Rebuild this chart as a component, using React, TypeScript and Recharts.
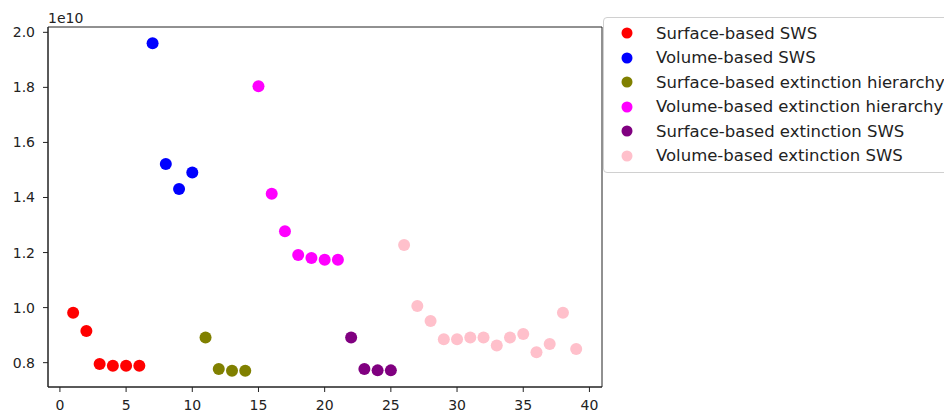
import React from 'react';
import { ScatterChart, Scatter, XAxis, YAxis, Legend, ReferenceArea } from 'recharts';

const seriesNames = [
  'Surface-based SWS',
  'Volume-based SWS',
  'Surface-based extinction hierarchy',
  'Volume-based extinction hierarchy',
  'Surface-based extinction SWS',
  'Volume-based extinction SWS',
];
const seriesColors = ['#ff0000', '#0000ff', '#808000', '#ff00ff', '#800080', '#ffc0cb'];

const surfaceSwsX = [1, 2, 3, 4, 5, 6];
const surfaceSwsY = [0.9815e10, 0.915e10, 0.795e10, 0.789e10, 0.789e10, 0.789e10];
const volumeSwsX = [7, 8, 9, 10];
const volumeSwsY = [1.96e10, 1.522e10, 1.431e10, 1.491e10];
const surfaceExtHierX = [11, 12, 13, 14];
const surfaceExtHierY = [0.891e10, 0.777e10, 0.771e10, 0.771e10];
const volumeExtHierX = [15, 16, 17, 18, 19, 20, 21];
const volumeExtHierY = [1.804e10, 1.414e10, 1.277e10, 1.191e10, 1.18e10, 1.174e10, 1.174e10];
const surfaceExtSwsX = [22, 23, 24, 25];
const surfaceExtSwsY = [0.891e10, 0.777e10, 0.772e10, 0.772e10];
const volumeExtSwsX = [26, 27, 28, 29, 30, 31, 32, 33, 34, 35, 36, 37, 38, 39];
const volumeExtSwsY = [
  1.227e10, 1.006e10, 0.951e10, 0.885e10, 0.885e10, 0.891e10, 0.891e10,
  0.862e10, 0.891e10, 0.904e10, 0.838e10, 0.868e10, 0.9815e10, 0.85e10,
];

const xTicks = [0, 5, 10, 15, 20, 25, 30, 35, 40];
const yTicks = [8e9, 1e10, 1.2e10, 1.4e10, 1.6e10, 1.8e10, 2e10];
const xDomain = [-0.9, 40.95];
const yDomain = [0.7116e10, 2.0193e10];

const allX = [surfaceSwsX, volumeSwsX, surfaceExtHierX, volumeExtHierX, surfaceExtSwsX, volumeExtSwsX];
const allY = [surfaceSwsY, volumeSwsY, surfaceExtHierY, volumeExtHierY, surfaceExtSwsY, volumeExtSwsY];

const series = seriesNames.map((name, i) => ({
  name,
  color: seriesColors[i],
  data: allX[i].map((x, j) => ({ x, y: allY[i][j] })),
}));

const FONT = '"DejaVu Sans", sans-serif';
const TEXT = '#222';
const AXIS = '#222';

const Dot = (props: any) => {
  const { cx, cy, fill } = props;
  if (cx == null || cy == null) return null;
  return <circle cx={cx} cy={cy} r={6} fill={fill} />;
};

const LegendContent = (props: any) => {
  const raw: any[] = props.payload && props.payload.length
    ? props.payload
    : series.map((s) => ({ value: s.name, color: s.color }));
  const payload = [...raw].sort(
    (a, b) => seriesNames.indexOf(a.value) - seriesNames.indexOf(b.value)
  );
  return (
    <div
      style={{
        border: '1px solid #d0d0d0',
        borderRadius: 4,
        background: '#fff',
        padding: '3px 0 4px 0',
        width: 360,
        boxSizing: 'border-box',
        fontFamily: FONT,
        fontSize: 16.5,
        color: TEXT,
      }}
    >
      {payload.map((p: any, i: number) => (
        <div key={i} style={{ height: 24.5, display: 'flex', alignItems: 'center', whiteSpace: 'nowrap' }}>
          <svg width={52} height={24} style={{ flex: 'none' }}>
            <circle cx={23} cy={12} r={5.5} fill={p.color} />
          </svg>
          <span>{p.value}</span>
        </div>
      ))}
    </div>
  );
};

const OffsetLabel = (props: any) => {
  const vb = props.viewBox || {};
  return (
    <text x={(vb.x || 0) + (vb.width || 0)} y={(vb.y || 0) - 4.5} fill={TEXT} fontSize={14} fontFamily={FONT} textAnchor="start">
      1e10
    </text>
  );
};

export default function App() {
  return (
    <div style={{ position: 'absolute', left: 0, top: 0, width: 944, height: 416, overflow: 'hidden', background: '#fff' }}>
      <ScatterChart width={944} height={416} margin={{ top: 27, right: 342, bottom: 0, left: 0 }}>
        <XAxis
          type="number"
          dataKey="x"
          domain={xDomain}
          ticks={xTicks}
          allowDataOverflow
          height={29}
          tickSize={5}
          tickMargin={8}
          stroke={AXIS}
          tick={{ fill: TEXT, fontSize: 14, fontFamily: FONT }}
          interval={0}
        />
        <YAxis
          type="number"
          dataKey="y"
          domain={yDomain}
          ticks={yTicks}
          allowDataOverflow
          width={48}
          tickSize={5}
          tickMargin={8}
          stroke={AXIS}
          tick={{ fill: TEXT, fontSize: 14, fontFamily: FONT }}
          tickFormatter={(v: number) => (v / 1e10).toFixed(1)}
          interval={0}
          label={<OffsetLabel />}
        />
        <ReferenceArea
          x1={xDomain[0]}
          x2={xDomain[1]}
          y1={yDomain[0]}
          y2={yDomain[1]}
          fill="none"
          fillOpacity={0}
          stroke={AXIS}
          strokeWidth={1}
          ifOverflow="visible"
        />
        {series.map((s) => (
          <Scatter
            key={s.name}
            name={s.name}
            data={s.data}
            fill={s.color}
            shape={<Dot />}
            isAnimationActive={false}
            legendType="circle"
          />
        ))}
        <Legend
          layout="vertical"
          align="center"
          verticalAlign="middle"
          wrapperStyle={{ left: 603, top: 17, width: 360 }}
          content={<LegendContent />}
        />
      </ScatterChart>
    </div>
  );
}
